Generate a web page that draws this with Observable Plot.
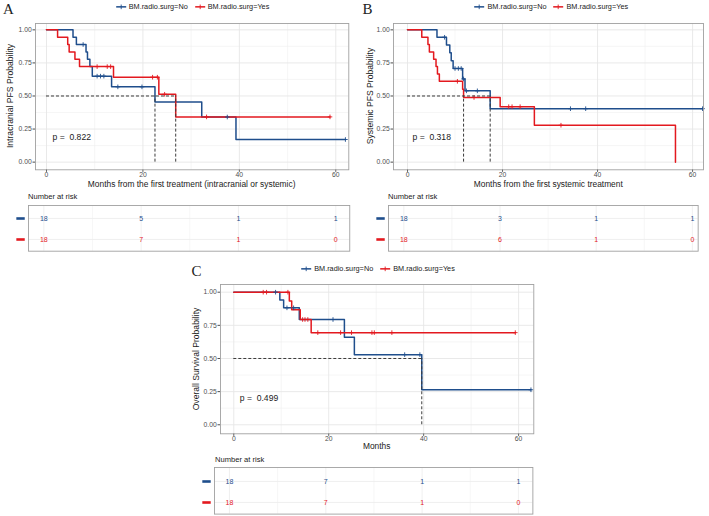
<!DOCTYPE html>
<html><head><meta charset="utf-8">
<script src="https://cdn.jsdelivr.net/npm/d3@7"></script>
<script src="https://cdn.jsdelivr.net/npm/@observablehq/plot@0.6"></script>
<style>
body{margin:0;background:#fff;}
#fig{position:relative;width:709px;height:516px;overflow:hidden;font-family:"Liberation Sans",Arial,sans-serif;color:#1a1a1a;}
#fig svg{overflow:visible;}
</style></head>
<body><div id="fig"></div>
<script>
// ---------------- DATA ----------------
const groups = ["No", "Yes"];
const legendLabels = ["BM.radio.surg=No", "BM.radio.surg=Yes"];
const riskMonths = [0, 20, 40, 60];
const xTickMonths = [0, 20, 40, 60];
const yTicks = [0, 0.25, 0.5, 0.75, 1];
const panelLetters = ["A", "B", "C"];
const yTitles = ["Intracranial PFS Probability", "Systemic PFS Probability", "Overall Survival Probability"];
const xTitles = ["Months from the first treatment (intracranial or systemic)", "Months from the first systemic treatment", "Months"];
const pvals = ["0.822", "0.318", "0.499"];

// Panel A: intracranial PFS
const A_no_time = [0, 5.5, 6.2, 8.2, 8.5, 9.0, 9.5, 13.5, 22.5, 32.2, 39.3];
const A_no_surv = [1, 0.944, 0.889, 0.833, 0.778, 0.722, 0.650, 0.569, 0.455, 0.341, 0.171];
const A_no_cens = [7.6, 10.5, 11.2, 11.9, 14.8, 19.8, 37.5, 62.0];
const A_yes_time = [0, 2.3, 4.4, 4.7, 5.9, 6.85, 13.9, 23.3, 26.8];
const A_yes_surv = [1, 0.944, 0.889, 0.833, 0.778, 0.722, 0.642, 0.513, 0.342];
const A_yes_cens = [10.5, 12.6, 13.3, 22.0, 23.0, 24.5, 33.2, 58.8];
const A_risk_no = [18, 5, 1, 1];
const A_risk_yes = [18, 7, 1, 0];

// Panel B: systemic PFS
const B_no_time = [0, 6.2, 8.2, 8.9, 9.2, 9.6, 11.6, 12.1, 17.4];
const B_no_surv = [1, 0.944, 0.885, 0.826, 0.767, 0.708, 0.629, 0.539, 0.404];
const B_no_cens = [7.8, 10.0, 10.7, 11.3, 11.8, 12.4, 14.7, 34.3, 37.5, 62.1];
const B_yes_time = [0, 3.0, 4.3, 4.6, 5.5, 6.0, 6.3, 6.7, 11.6, 11.8, 19.5, 26.7, 56.4];
const B_yes_surv = [1, 0.944, 0.889, 0.833, 0.778, 0.722, 0.667, 0.611, 0.550, 0.489, 0.419, 0.279, 0];
const B_yes_cens = [10.5, 14.0, 21.3, 22.0, 23.7, 32.3];
const B_risk_no = [18, 3, 1, 1];
const B_risk_yes = [18, 6, 1, 0];

// Panel C: overall survival
const C_no_time = [0, 9.7, 10.5, 13.8, 23.3, 25.4, 39.6];
const C_no_surv = [1, 0.941, 0.882, 0.794, 0.661, 0.529, 0.264];
const C_no_cens = [8.8, 11.2, 12.6, 20.9, 36.0, 39.2, 62.6];
const C_yes_time = [0, 11.7, 12.2, 14.0, 16.3];
const C_yes_surv = [1, 0.933, 0.867, 0.794, 0.695];
const C_yes_cens = [6.2, 6.9, 11.4, 14.5, 15.0, 15.6, 17.7, 22.5, 24.8, 29.1, 29.6, 33.3, 59.3];
const C_risk_no = [18, 7, 1, 1];
const C_risk_yes = [18, 7, 1, 0];

// ---------------- LAYOUT / STYLE ----------------
const colors = {No: "#1f4e8c", Yes: "#e3191f"};
const FONT = "Liberation Sans, Arial, sans-serif";
const panels = [
  {letter: panelLetters[0], letterPos: [3, 2.4], yTitle: yTitles[0], xTitle: xTitles[0], p: pvals[0], pPos: [1.25, 0.19],
   data: {No: [A_no_time, A_no_surv, A_no_cens], Yes: [A_yes_time, A_yes_surv, A_yes_cens]}, risk: {No: A_risk_no, Yes: A_risk_yes},
   km: {l: 35, r: 348.3, t: 22.7, b: 169, xd: [-2.28, 62.7], yd: [-0.058, 1.048]},
   yTitleX: 9.5, xTitleY: 184, legend: [192.5, 7],
   rt: {l: 27.7, r: 349, t: 205, b: 250.7, xd: [-3.14, 62.87]}, narPos: [28, 197.3]},
  {letter: panelLetters[1], letterPos: [362.5, 2.4], yTitle: yTitles[1], xTitle: xTitles[1], p: pvals[1], pPos: [1.05, 0.19],
   data: {No: [B_no_time, B_no_surv, B_no_cens], Yes: [B_yes_time, B_yes_surv, B_yes_cens]}, risk: {No: B_risk_no, Yes: B_risk_yes},
   km: {l: 393.3, r: 703.3, t: 22.7, b: 169, xd: [-2.95, 62.3], yd: [-0.058, 1.048]},
   yTitleX: 370.3, xTitleY: 183.6, legend: [551.3, 7],
   rt: {l: 388, r: 697.7, t: 205, b: 250.7, xd: [-3.18, 61.2]}, narPos: [388, 197.3]},
  {letter: panelLetters[2], letterPos: [191.5, 264], yTitle: yTitles[2], xTitle: xTitles[2], p: pvals[2], pPos: [1.26, 0.20],
   data: {No: [C_no_time, C_no_surv, C_no_cens], Yes: [C_yes_time, C_yes_surv, C_yes_cens]}, risk: {No: C_risk_no, Yes: C_risk_yes},
   km: {l: 220, r: 533.3, t: 284, b: 433.3, xd: [-2.8, 63.2], yd: [-0.068, 1.058]},
   yTitleX: 196.3, xTitleY: 445.5, legend: [378, 269.3],
   rt: {l: 214.3, r: 532.7, t: 466.7, b: 513.3, xd: [-3.11, 63.0]}, narPos: [215, 460]}
];

const fig = document.getElementById("fig");
function place(el, left, top) {
  el.style.position = "absolute"; el.style.left = left + "px"; el.style.top = top + "px";
  fig.appendChild(el); return el;
}
function addText(txt, css) {
  const d = document.createElement("div");
  d.textContent = txt;
  d.style.cssText = "position:absolute;white-space:pre;line-height:1;" + css;
  fig.appendChild(d); return d;
}
function survAt(T, S, t) { let v = S[0]; for (let i = 0; i < T.length; i++) if (T[i] <= t) v = S[i]; return v; }

const riskBar = {draw(ctx) { ctx.rect(-4.2, -1.3, 8.4, 2.6); }};

function kmPlot(P) {
  const k = P.km, mL = 34, mR = 8, mT = 6, mB = 12;
  const linePts = [], cens = [], meds = [];
  for (const g of groups) {
    const [T, S, C] = P.data[g];
    T.forEach((t, i) => linePts.push({t, s: S[i], g}));
    const lastC = d3.max(C);
    if (lastC > T[T.length - 1]) linePts.push({t: lastC, s: S[S.length - 1], g});
    for (const c of C) cens.push({t: c, s: survAt(T, S, c), g});
    const mi = S.findIndex(v => v <= 0.5);
    if (mi >= 0) meds.push(T[mi]);
  }
  const marks = [
    Plot.gridX({ticks: [10, 30, 50], stroke: "#f0f0f0", strokeOpacity: 1, strokeWidth: 0.6}),
    Plot.gridY({ticks: [0.125, 0.375, 0.625, 0.875], stroke: "#f0f0f0", strokeOpacity: 1, strokeWidth: 0.6}),
    Plot.gridX({ticks: xTickMonths, stroke: "#e6e6e6", strokeOpacity: 1, strokeWidth: 0.9}),
    Plot.gridY({ticks: yTicks, stroke: "#e6e6e6", strokeOpacity: 1, strokeWidth: 0.9}),
    Plot.axisX({ticks: xTickMonths, tickSize: 2.5, tickPadding: 0.2, label: null, color: "#4d4d4d", fontSize: 6.8}),
    Plot.axisY({ticks: yTicks, tickSize: 2.5, tickPadding: 1.3, label: null, color: "#4d4d4d", fontSize: 6.8, tickFormat: d3.format(".2f")}),
    Plot.line(linePts, {x: "t", y: "s", z: "g", stroke: d => colors[d.g], curve: "step-after", strokeWidth: 1.5}),
    Plot.dot(cens, {x: "t", y: "s", stroke: d => colors[d.g], symbol: "plus", r: 1.6, strokeWidth: 0.9})
  ];
  if (meds.length) {
    marks.push(Plot.ruleY([{y: 0.5, x1: 0, x2: d3.max(meds)}], {y: "y", x1: "x1", x2: "x2", stroke: "#3a3a3a", strokeWidth: 1, strokeDasharray: "3,2"}));
    marks.push(Plot.ruleX(meds.map(m => ({x: m, y1: 0, y2: 0.5})), {x: "x", y1: "y1", y2: "y2", stroke: "#3a3a3a", strokeWidth: 1, strokeDasharray: "3,2"}));
  }
  marks.push(Plot.text([{x: P.pPos[0], y: P.pPos[1], label: "p = \u00a0" + P.p}], {x: "x", y: "y", text: "label", textAnchor: "start", fontSize: 8.6, fill: "#1a1a1a"}));
  marks.push(Plot.frame({stroke: "#a0a0a0", strokeWidth: 0.9}));
  const svg = Plot.plot({
    width: k.r - k.l + mL + mR, height: k.b - k.t + mT + mB,
    marginLeft: mL, marginRight: mR, marginTop: mT, marginBottom: mB,
    x: {domain: k.xd}, y: {domain: k.yd},
    style: {fontFamily: FONT, fontSize: "6.8px", background: "transparent"},
    marks
  });
  place(svg, k.l - mL, k.t - mT);
}

function riskPlot(P) {
  const k = P.rt, mL = 16, mR = 4, mT = 2, mB = 2;
  const rows = [];
  for (const g of groups) P.risk[g].forEach((n, i) => rows.push({t: riskMonths[i], n, g}));
  const svg = Plot.plot({
    width: k.r - k.l + mL + mR, height: k.b - k.t + mT + mB,
    marginLeft: mL, marginRight: mR, marginTop: mT, marginBottom: mB,
    x: {domain: k.xd, axis: null},
    y: {type: "point", domain: groups, padding: 0.57, align: 0.53, axis: null},
    style: {fontFamily: FONT, fontSize: "7px", background: "transparent"},
    marks: [
      Plot.gridX({ticks: [10, 30, 50], stroke: "#f0f0f0", strokeOpacity: 1, strokeWidth: 0.6}),
      Plot.gridX({ticks: riskMonths, stroke: "#ececec", strokeOpacity: 1, strokeWidth: 0.8}),
      Plot.gridY({ticks: groups, stroke: "#ececec", strokeOpacity: 1, strokeWidth: 0.8}),
      Plot.text(rows, {x: "t", y: "g", text: d => String(d.n), fill: d => colors[d.g], fontSize: 7}),
      Plot.dot(groups, {y: d => d, frameAnchor: "left", dx: -8, symbol: riskBar, fill: d => colors[d], stroke: null}),
      Plot.frame({stroke: "#a0a0a0", strokeWidth: 0.9})
    ]
  });
  place(svg, k.l - mL, k.t - mT);
}

function legend(P) {
  const wrap = document.createElement("div");
  wrap.style.cssText = `position:absolute;left:${P.legend[0]}px;top:${P.legend[1]}px;transform:translate(-50%,-50%);display:flex;align-items:center;gap:7px;white-space:nowrap;font-size:7.3px;line-height:1;color:#1a1a1a;`;
  groups.forEach((g, i) => {
    const item = document.createElement("span");
    item.style.cssText = "display:flex;align-items:center;gap:3px;";
    item.innerHTML = `<svg width="10" height="7" style="overflow:visible"><line x1="0" x2="10" y1="3.5" y2="3.5" stroke="${colors[g]}" stroke-width="1.5"/><line x1="5" x2="5" y1="1.2" y2="5.8" stroke="${colors[g]}" stroke-width="0.9"/></svg>`;
    const t = document.createElement("span"); t.textContent = legendLabels[i];
    item.appendChild(t); wrap.appendChild(item);
  });
  fig.appendChild(wrap);
}

for (const P of panels) {
  kmPlot(P);
  riskPlot(P);
  legend(P);
  addText(P.letter, `left:${P.letterPos[0]}px;top:${P.letterPos[1]}px;font-family:'Liberation Serif','Times New Roman',serif;font-size:15px;color:#222;`);
  addText(P.yTitle, `left:${P.yTitleX}px;top:${(P.km.t + P.km.b) / 2}px;transform:translate(-50%,-50%) rotate(-90deg);font-size:8.6px;`);
  addText(P.xTitle, `left:${(P.km.l + P.km.r) / 2}px;top:${P.xTitleY}px;transform:translate(-50%,-50%);font-size:8.4px;`);
  addText("Number at risk", `left:${P.narPos[0]}px;top:${P.narPos[1]}px;transform:translateY(-50%);font-size:7.6px;`);
}
</script>
</body></html>
